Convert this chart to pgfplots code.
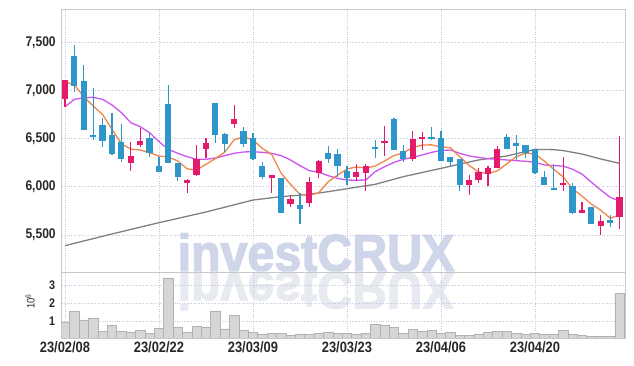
\documentclass[border=0pt]{standalone}
\usepackage{fontspec}
\setmainfont{Liberation Sans}[FakeStretch=0.86, BoldFont={Liberation Sans Bold}]
\newfontfamily\wmfont{Liberation Sans Bold}[FakeStretch=0.93, FakeBold=2.5]
\usepackage{graphicx}
\usepackage{pgfplots}
\pgfplotsset{compat=1.18}
\usepackage{pgfplotstable}

\definecolor{cUp}{RGB}{228,26,108}
\definecolor{cDn}{RGB}{46,150,200}
\definecolor{cMAa}{RGB}{238,134,72}
\definecolor{cMAb}{RGB}{204,84,238}
\definecolor{cMAc}{RGB}{128,128,128}
\definecolor{cGrid}{RGB}{195,198,222}
\definecolor{cFrame}{RGB}{200,200,200}
\definecolor{cWM}{RGB}{208,214,234}
\definecolor{cWMr}{RGB}{232,234,242}
\definecolor{cVol}{RGB}{214,214,214}
\definecolor{cVolE}{RGB}{178,178,178}
\definecolor{cTxt}{RGB}{40,40,40}

% up (red) candles: index open high low close
\pgfplotstableread{
x o h l c
0 6908 7109 6832 7109
7 6251 6469 6168 6320
8 6438 6614 6410 6476
13 6036 6078 5933 6071
14 6119 6431 6112 6286
15 6396 6504 6296 6459
18 6652 6846 6607 6708
22 6095 6126 5939 6126
24 5825 5915 5794 5870
26 5836 6099 5794 6054
27 6147 6279 6088 6268
31 6098 6237 6061 6154
32 6147 6237 5957 6216
34 6459 6632 6320 6479
37 6292 6583 6272 6497
38 6493 6566 6382 6521
43 6019 6123 5915 6071
44 6071 6192 6036 6154
45 6133 6216 6009 6192
46 6199 6424 6199 6389
53 6030 6306 5960 6035
55 5732 5846 5732 5760
57 5597 5708 5500 5645
59 5690 6528 5558 5891
}\up

% down (blue) candles
\pgfplotstableread{
x o h l c
1 7358 7472 6988 7047
2 7099 7261 6590 6590
3 6535 7022 6486 6528
4 6642 6711 6417 6479
5 6538 6763 6331 6341
6 6465 6649 6261 6292
9 6507 6562 6306 6348
10 6216 6313 6157 6157
11 6860 7054 6244 6251
12 6251 6251 6064 6106
16 6867 6867 6452 6542
17 6549 6563 6365 6445
19 6576 6625 6417 6445
20 6504 6556 6279 6289
21 6216 6261 6078 6106
23 6088 6088 5732 5732
25 5812 5933 5614 5774
28 6348 6424 6251 6292
29 6341 6389 6106 6220
30 6164 6220 6019 6095
33 6403 6486 6296 6396
35 6708 6715 6382 6382
36 6376 6434 6255 6289
39 6521 6625 6486 6493
40 6510 6583 6268 6268
41 6310 6310 6202 6258
42 6286 6286 5960 6019
47 6521 6549 6396 6396
48 6459 6538 6278 6427
49 6434 6434 6296 6348
50 6389 6389 6133 6147
51 6099 6168 6019 6019
52 5984 6237 5967 5967
54 6009 6036 5718 5732
56 5787 5787 5611 5611
58 5656 5708 5586 5628
}\down

% moving averages (5 and 20 days)
\pgfplotstableread{
x m5 m20
0 7092 6832
1 7057 6908
2 6936 6926
3 6839 6929
4 6751 6908
5 6597 6850
6 6446 6770
7 6392 6666
8 6382 6625
9 6355 6562
10 6319 6469
11 6310 6389
12 6268 6348
13 6187 6313
14 6174 6286
15 6235 6286
16 6293 6299
17 6361 6324
18 6488 6348
19 6520 6362
20 6486 6365
21 6399 6358
22 6335 6348
23 6140 6324
24 6025 6279
25 5922 6220
26 5911 6168
27 5940 6151
28 6052 6116
29 6122 6088
30 6186 6071
31 6206 6068
32 6195 6071
33 6216 6158
34 6268 6209
35 6325 6254
36 6352 6286
37 6409 6306
38 6434 6331
39 6436 6358
40 6414 6379
41 6407 6382
42 6312 6348
43 6222 6320
44 6154 6306
45 6139 6292
46 6165 6286
47 6240 6279
48 6312 6272
49 6350 6265
50 6341 6254
51 6267 6227
52 6182 6220
53 6103 6216
54 5980 6182
55 5903 6133
56 5821 6047
57 5757 5967
58 5675 5891
59 5707 5853
}\ma

% 60-day moving average
\pgfplotstableread{
x m60
0 5389
5 5511
10 5628
15 5739
20 5863
23 5898
26 5922
28 5950
30 5981
33 6026
36 6106
40 6192
44 6279
47 6320
50 6389
52 6386
53 6376
55 6341
57 6289
59 6244
}\masixty

% volume (millions)
\pgfplotstableread{
x v
0 0.91
1 1.56
2 1.06
3 1.15
4 0.44
5 0.78
6 0.44
7 0.39
8 0.48
9 0.33
10 0.59
11 3.39
12 0.67
13 0.39
14 0.70
15 0.67
16 1.56
17 0.56
18 1.33
19 0.50
20 0.35
21 0.28
22 0.33
23 0.33
24 0.20
25 0.28
26 0.28
27 0.33
28 0.39
29 0.30
30 0.31
31 0.28
32 0.33
33 0.83
34 0.78
35 0.65
36 0.33
37 0.54
38 0.44
39 0.48
40 0.31
41 0.39
42 0.22
43 0.22
44 0.28
45 0.39
46 0.44
47 0.41
48 0.30
49 0.26
50 0.30
51 0.26
52 0.26
53 0.47
54 0.26
55 0.19
56 0.15
57 0.13
58 0.13
59 2.54
}\vol

\pgfplotsset{
  base/.style={
    scale only axis, width=564pt,
    xmin=-0.35, xmax=59.65,
    axis line style={cFrame, line width=0.8pt},
    major tick length=0pt,
    grid=major,
    major grid style={cGrid, dotted, line width=0.7pt},
    /pgf/number format/assume math mode=true,
    xtick={0,10,20,30,40,50},
  },
  wick/.style={draw=none, mark=none, forget plot,
    error bars/.cd, y dir=both, y explicit, error mark=none,
    error bar style={draw=#1, line width=1.2pt}},
  body/.style={draw=none, mark=none, forget plot,
    error bars/.cd, y dir=both, y explicit, error mark=none,
    error bar style={draw=#1, line width=6.2pt}},
}

\begin{document}
\begin{tikzpicture}
\path[use as bounding box] (0,0) rectangle (634pt,366pt);

% watermark and its reflection
\node[anchor=base, inner sep=0, text=cWM, font=\wmfont\fontsize{52}{54}\selectfont]
  at (316pt,95pt) {investCRUX};
\node[anchor=base, inner sep=0, text=cWMr, font=\wmfont\fontsize{52}{54}\selectfont]
  at (316pt,93.6pt) {\scalebox{1}[-1]{investCRUX}};

% price panel
\begin{axis}[base,
  at={(61.7pt,93.7pt)}, anchor=south west,
  height=263pt,
  ymin=5113, ymax=7843,
  ytick={5500,6000,6500,7000,7500},
  /pgf/number format/1000 sep={,},
  xticklabels={},
  yticklabel style={font=\bfseries\fontsize{14}{14}\selectfont, text=cTxt, xshift=-2.5pt},
]
\addplot[cMAc, line width=1.3pt, forget plot] table[x=x, y=m60] {\masixty};
\addplot[cMAb, line width=1.3pt, forget plot] table[x=x, y=m20] {\ma};
\addplot[cMAa, line width=1.3pt, forget plot] table[x=x, y=m5] {\ma};

\addplot[wick=cUp] table[x=x, y expr=(\thisrow{h}+\thisrow{l})/2, y error expr=(\thisrow{h}-\thisrow{l})/2] {\up};
\addplot[wick=cDn] table[x=x, y expr=(\thisrow{h}+\thisrow{l})/2, y error expr=(\thisrow{h}-\thisrow{l})/2] {\down};
\addplot[body=cUp] table[x=x, y expr=(\thisrow{o}+\thisrow{c})/2, y error expr={max(abs(\thisrow{c}-\thisrow{o})/2,9)}] {\up};
\addplot[body=cDn] table[x=x, y expr=(\thisrow{o}+\thisrow{c})/2, y error expr={max(abs(\thisrow{c}-\thisrow{o})/2,9)}] {\down};
\end{axis}

% volume panel
\begin{axis}[base,
  at={(61.7pt,28pt)}, anchor=south west,
  height=65.7pt,
  ymin=0.055, ymax=3.705,
  ytick={1,2,3},
  xticklabels={23/02/08,23/02/22,23/03/09,23/03/23,23/04/06,23/04/20},
  xticklabel style={font=\bfseries\fontsize{15}{15}\selectfont, text=cTxt, yshift=-0.5pt},
  yticklabel style={font=\bfseries\fontsize{12.5}{12.5}\selectfont, text=cTxt, xshift=-3pt},
  ylabel={10\textsuperscript{6}},
  ylabel style={at={(axis description cs:-0.056,0.56)}, anchor=center, rotate=0,
    font=\fontsize{11}{11}\selectfont, text=cTxt},
]
\addplot[ybar, bar width=1, fill=cVol, draw=cVolE, line width=0.5pt] table[x=x, y=v] {\vol};
\end{axis}
\end{tikzpicture}
\end{document}
